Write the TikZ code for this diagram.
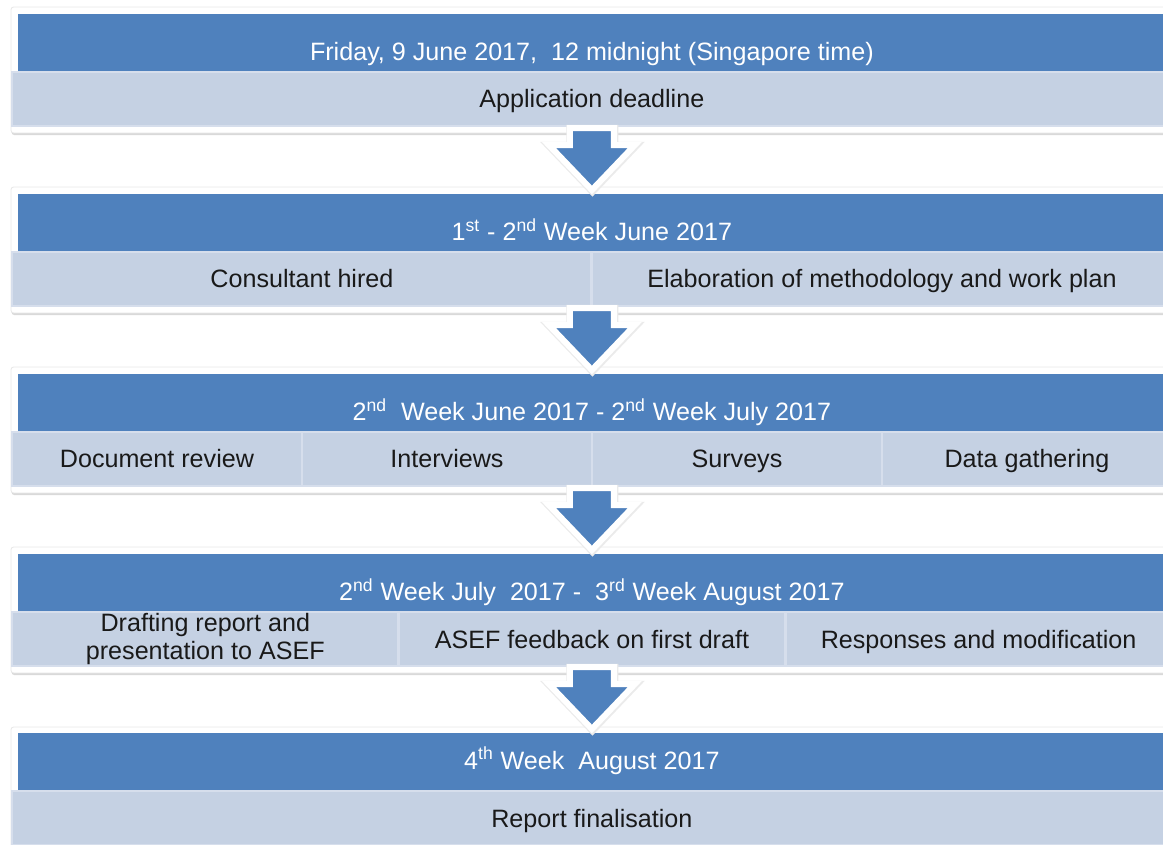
\documentclass[tikz,border=0pt]{standalone}
\usepackage{fontspec}
\setmainfont{Liberation Sans}
\usetikzlibrary{shadows}

\definecolor{headblue}{RGB}{79,129,189}
\definecolor{rowblue}{RGB}{197,209,227}
\definecolor{rowedge}{RGB}{214,222,236}
\definecolor{rowtext}{RGB}{25,25,25}

\tikzset{
  card/.style={fill=white, draw=black!9, line width=0.5pt, rounded corners=1.5pt,
    inner sep=0pt, outer sep=0pt,
    minimum width=23.24cm, minimum height=2.52cm, anchor=north west,
    drop shadow={shadow xshift=0.4pt, shadow yshift=-1.2pt, opacity=.3}},
  header/.style={fill=headblue, text=white, inner sep=0pt, outer sep=0pt,
    minimum width=22.96cm, minimum height=1.16cm, anchor=north west,
    text height=0.94cm, text depth=0.22cm},
  lastheader/.style={header, text height=0.72cm, text depth=0.44cm},
  cellbox/.style={fill=rowblue, draw=rowedge, line width=1.6pt, text=rowtext,
    inner sep=0pt, outer sep=0pt, minimum height=1.08cm, anchor=north west},
  cell/.style={cellbox, text height=0.72cm, text depth=0.36cm},
  flowarrow/.style={fill=headblue, draw=white, line width=0.12cm,
    preaction={draw=black!8, line width=0.16cm, transform canvas={xshift=0.3pt, yshift=-0.5pt}}}
}

\begin{document}
\begin{tikzpicture}[x=0.02cm, y=-0.02cm,
    every node/.append style={font=\fontsize{14.3}{15.4}\selectfont}]
  \useasboundingbox (0,0) rectangle (1163,845);
  \clip (0,0) rectangle (1163,845);

  % deadline
  \node[card] (c1) at (11,7) {};
  \node[header] (h1) at (18,14) {Friday, 9 June 2017,\ \ 12 midnight (Singapore time)};
  \node[cell, minimum width=23.2cm] (r1) at (12,72) {Application deadline};

  % hiring
  \node[card] (c2) at (11,187) {};
  \node[header] (h2) at (18,194) {1\textsuperscript{st} - 2\textsuperscript{nd} Week June 2017};
  \node[cell, minimum width=11.6cm] (r2a) at (12,252) {Consultant hired};
  \node[cell, minimum width=11.6cm] (r2b) at (592,252) {Elaboration of methodology and work plan};

  % research
  \node[card] (c3) at (11,367) {};
  \node[header] (h3) at (18,374) {2\textsuperscript{nd}\ \ Week June 2017 - 2\textsuperscript{nd} Week July 2017};
  \node[cell, minimum width=5.8cm] (r3a) at (12,432) {Document review};
  \node[cell, minimum width=5.8cm] (r3b) at (302,432) {Interviews};
  \node[cell, minimum width=5.8cm] (r3c) at (592,432) {Surveys};
  \node[cell, minimum width=5.8cm] (r3d) at (882,432) {Data gathering};

  % drafting
  \node[card] (c4) at (11,547) {};
  \node[header] (h4) at (18,554) {2\textsuperscript{nd} Week July\ \ 2017 -\ \ 3\textsuperscript{rd} Week August 2017};
  \node[cellbox, minimum width=7.7333cm, align=center] (r4a) at (12,612) {Drafting report and\\presentation to ASEF};
  \node[cell, minimum width=7.7333cm] (r4b) at (398.67,612) {ASEF feedback on first draft};
  \node[cell, minimum width=7.7333cm] (r4c) at (785.33,612) {Responses and modification};

  % final
  \node[card] (c5) at (11,727) {};
  \node[lastheader] (h5) at (18,733) {4\textsuperscript{th} Week\ \ August 2017};
  \node[cell, minimum width=23.2cm] (r5) at (12,791) {Report finalisation};

  % block arrows between the stages
  \foreach \i/\j in {1/2, 2/3, 3/4, 4/5} {
    \coordinate (tip\i) at ([yshift=0.08cm]h\j.north);
    \draw[flowarrow] (tip\i) -- ++(-43,-45) -- ++(21,0) -- ++(0,-17)
      -- ++(44,0) -- ++(0,17) -- ++(21,0) -- cycle;
  }
\end{tikzpicture}
\end{document}
